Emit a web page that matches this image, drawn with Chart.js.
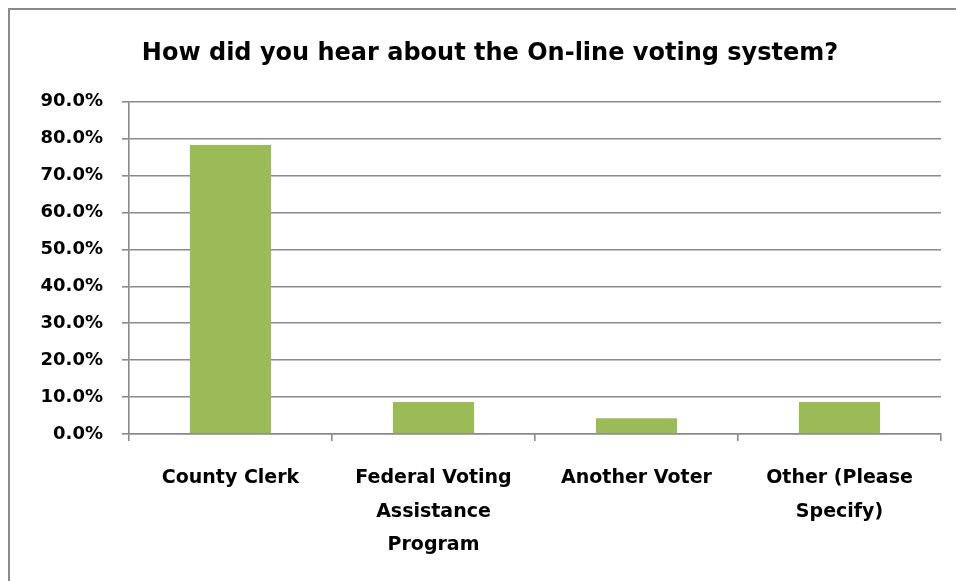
<!DOCTYPE html>
<html>
<head>
<meta charset="utf-8">
<script src="https://cdn.jsdelivr.net/npm/chart.js@4"></script>
<style>
  html, body { margin: 0; padding: 0; background: #fff; overflow: hidden; }
  #frame {
    position: absolute; left: 8px; top: 8px; width: 1000px; height: 1000px;
    border-left: 2px solid #8a8a8a; border-top: 2px solid #8a8a8a;
  }
  #wrap { position: absolute; left: 0; top: 0; width: 956px; height: 581px; }
</style>
</head>
<body>
<div id="frame"></div>
<div id="wrap"><canvas id="chart" width="956" height="581"></canvas></div>
<script>
// data (23 responses)
const categories = [
  "County Clerk",
  ["Federal Voting", "Assistance", "Program"],
  "Another Voter",
  ["Other (Please", "Specify)"]
];
const percents = [78.3, 8.7, 4.3, 8.7];
const titleText = "How did you hear about the On-line voting system?";

const fontFamily = "'DejaVu Sans', sans-serif";
const gridColor = "#8a8a8a";

const ctx = document.getElementById("chart").getContext("2d");
new Chart(ctx, {
  type: "bar",
  data: {
    labels: categories,
    datasets: [{
      data: percents,
      backgroundColor: "#9bbb59",
      barPercentage: 0.4,
      categoryPercentage: 1.0
    }]
  },
  options: {
    responsive: false,
    animation: false,
    layout: { padding: { left: 39, right: 15, top: 0, bottom: 0 } },
    plugins: {
      legend: { display: false },
      tooltip: { enabled: false },
      title: {
        display: true,
        text: titleText,
        color: "#000",
        font: { family: fontFamily, size: 24, weight: "bold" },
        padding: { top: 39, bottom: 34 }
      }
    },
    scales: {
      x: {
        offset: true,
        grid: {
          offset: true,
          drawOnChartArea: false,
          drawTicks: true,
          tickLength: 7,
          color: gridColor,
          lineWidth: 1.6
        },
        border: { display: true, color: gridColor, width: 1.6 },
        ticks: {
          color: "#000",
          maxRotation: 0,
          autoSkip: false,
          padding: 21,
          font: { family: fontFamily, size: 19, weight: "bold", lineHeight: 1.74 }
        },
        afterFit(scale) { scale.height = 147; }
      },
      y: {
        min: 0,
        max: 90,
        grid: {
          color: gridColor,
          lineWidth: 1.6,
          tickLength: 7
        },
        border: { display: true, color: gridColor, width: 1.6 },
        ticks: {
          stepSize: 10,
          color: "#000",
          padding: 19,
          font: { family: fontFamily, size: 18, weight: "bold" },
          callback: v => v.toFixed(1) + "%"
        },
        afterFit(scale) { scale.width = 90; }
      }
    }
  }
});
</script>
</body>
</html>
